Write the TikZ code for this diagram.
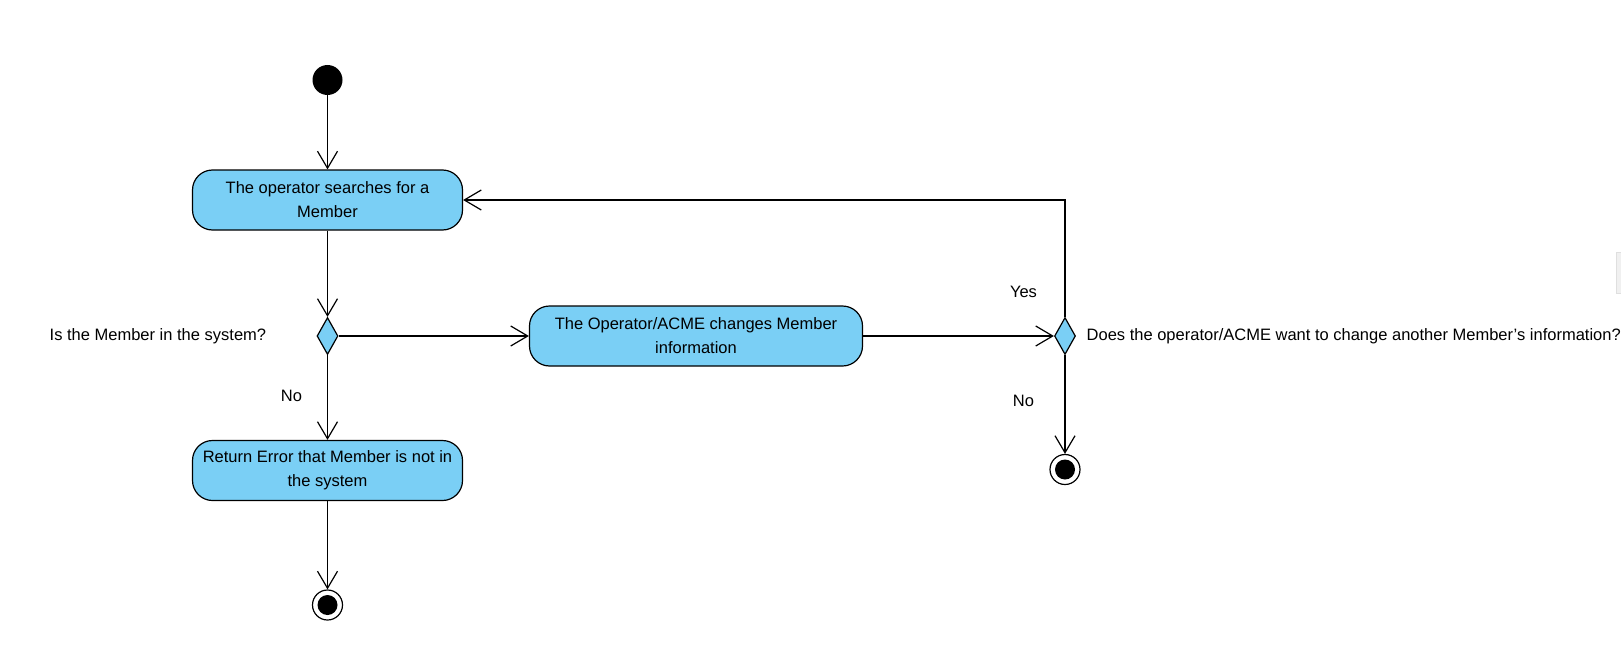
\documentclass[tikz,border=0pt]{standalone}
\usepackage{fontspec}
\setmainfont{Liberation Sans}
\usetikzlibrary{arrows.meta,shapes.geometric}
\definecolor{actblue}{RGB}{122,207,245}
\begin{document}
\begin{tikzpicture}[x=1pt,y=-1pt,
  font=\fontsize{16.5}{24}\selectfont,
  flow/.style={draw=black,line width=1.2pt,-{Straight Barb[length=17pt,width=20pt]}},
  action/.style={draw=black,fill=actblue,line width=1.2pt,rounded corners=20pt,
    minimum height=60pt,align=center,inner sep=0pt},
  decision/.style={diamond,draw=black,fill=actblue,line width=1.2pt,
    minimum width=21pt,minimum height=37pt,inner sep=0pt},
  startnode/.style={circle,fill=black,minimum size=30pt,inner sep=0pt},
  endnode/.style={circle,draw=black,fill=white,line width=1.2pt,minimum size=30pt,inner sep=0pt,
    path picture={\fill[black] (path picture bounding box.center) circle (10pt);}},
  lbl/.style={inner sep=0pt}]
\useasboundingbox (0,0) rectangle (1621,661);
\fill[white] (0,0) rectangle (1621,661);
\draw[draw=gray!25,fill=gray!12] (1616,252) rectangle (1621,293);

\node[startnode] (start) at (327.5,80) {};
\node[action,minimum width=270pt] (n1) at (327.5,200) {The operator searches for a\\Member};
\node[decision] (d1) at (327.5,336) {};
\node[action,minimum width=333pt] (n2) at (696,336) {The Operator/ACME changes Member\\information};
\node[decision] (d2) at (1065,336) {};
\node[action,minimum width=270pt] (n3) at (327.5,470.5) {Return Error that Member is not in\\the system};
\node[endnode] (e1) at (327.5,605) {};
\node[endnode] (e2) at (1065,469.5) {};

\node[lbl,anchor=west] (q1) at (49.5,336) {Is the Member in the system?};
\node[lbl,anchor=west] (q2) at (1086.5,336) {Does the operator/ACME want to change another Member\char"0027 s information?};
\node[lbl] (yes) at (1023.5,291.5) {Yes};
\node[lbl] (no2) at (1023.5,401) {No};
\node[lbl] (no1) at (291.5,396) {No};

\draw[flow] (start) -- (n1);
\draw[flow] (n1) -- (d1);
\draw[flow] (d1) -- (n3);
\draw[flow] (d1) -- (n2);
\draw[flow] (n2) -- (d2);
\draw[flow] (d2.north) |- (n1.east);
\draw[flow] (d2) -- (e2);
\draw[flow] (n3) -- (e1);
\end{tikzpicture}
\end{document}
